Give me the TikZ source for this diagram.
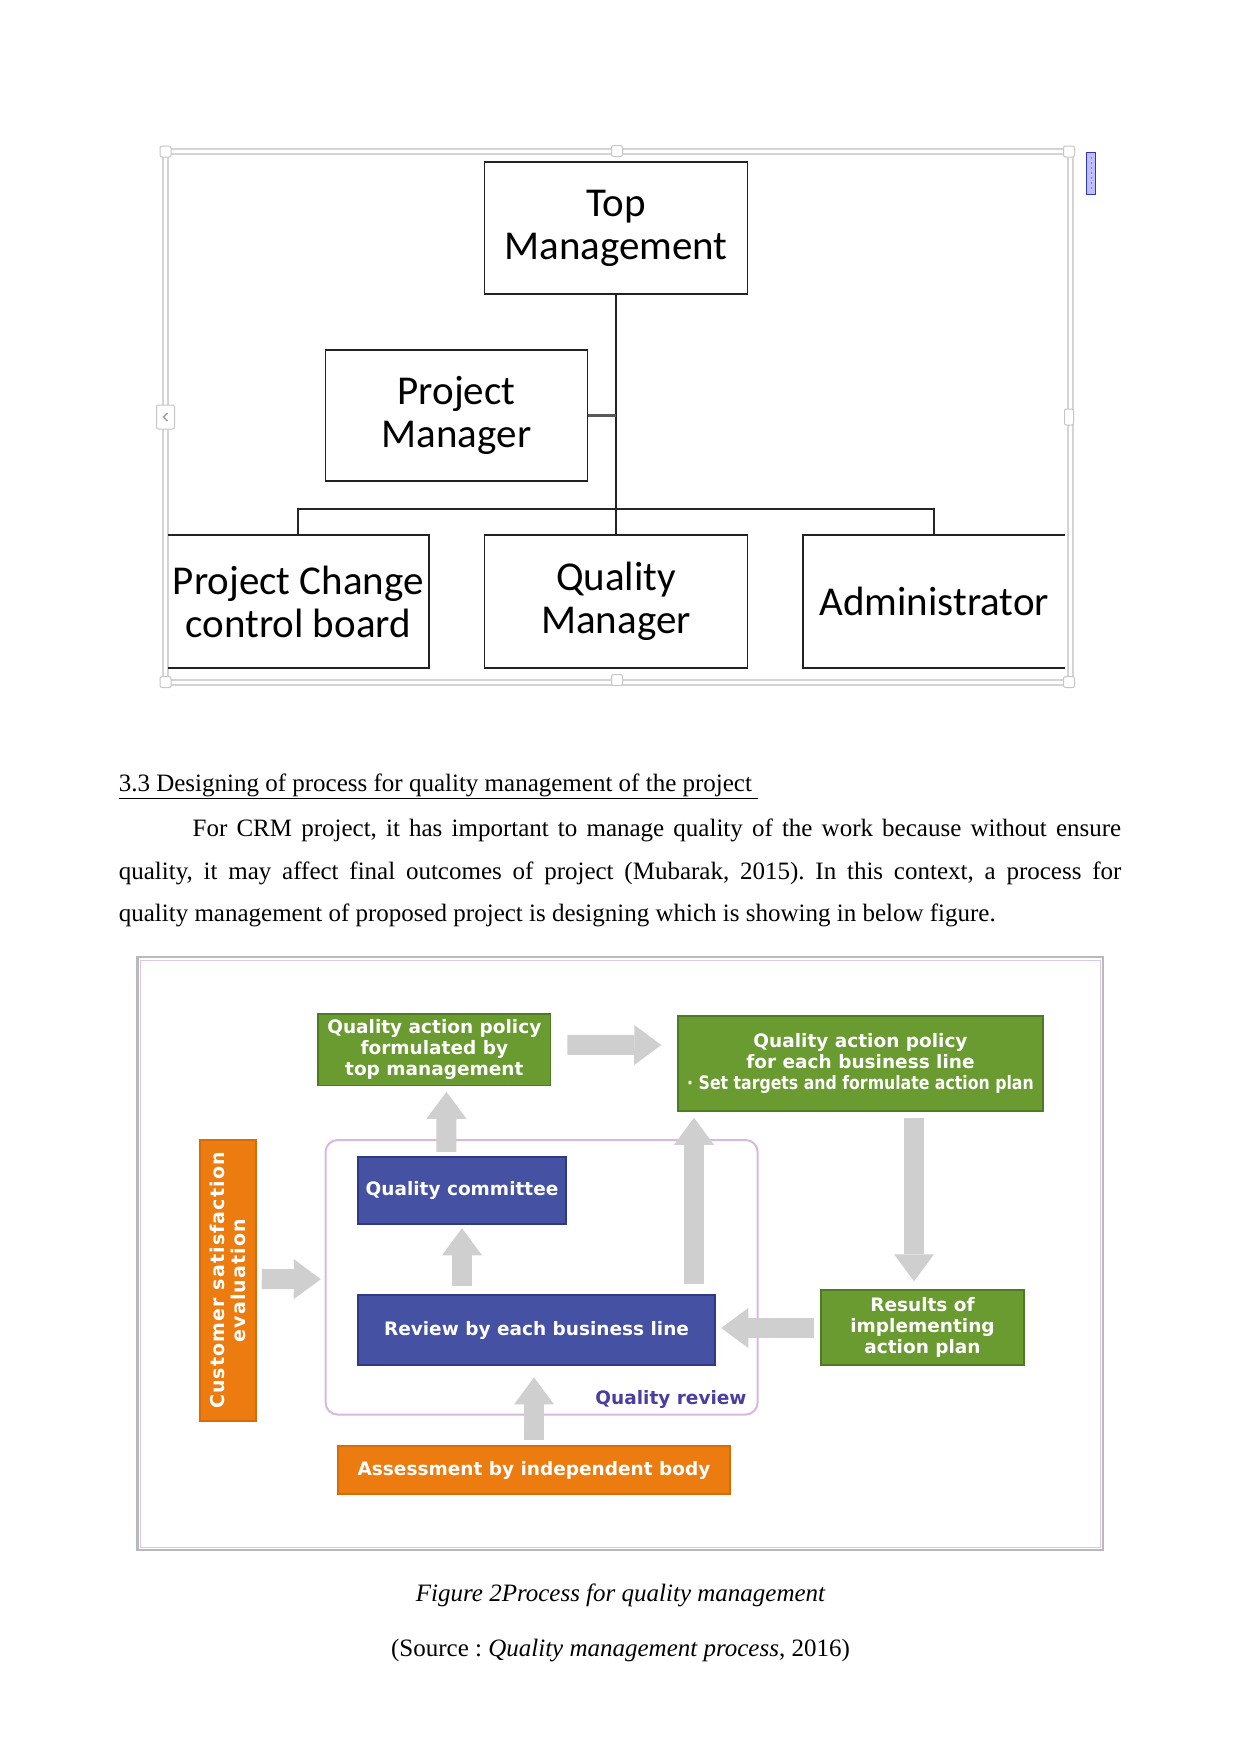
\documentclass[tikz,border=0pt]{standalone}
\usepackage{fontspec}
\usepackage{graphicx}
\setmainfont{Liberation Serif}
\newfontfamily\califont{Carlito}
\newfontfamily\dvsfont{DejaVu Sans}
\newfontfamily\dvsspaced[LetterSpace=6]{DejaVu Sans}
\usetikzlibrary{arrows.meta,calc}
\definecolor{qgreen}{HTML}{6A9B30}
\definecolor{qgreenb}{HTML}{4E7A22}
\definecolor{qblue}{HTML}{4551A2}
\definecolor{qblueb}{HTML}{2F3985}
\definecolor{qorange}{HTML}{EC7C10}
\definecolor{qorangeb}{HTML}{D86C05}
\definecolor{agray}{HTML}{CFCFCF}
\definecolor{qrline}{HTML}{D8B8E0}
\definecolor{qrtext}{HTML}{4A3E9E}
\definecolor{framegray}{HTML}{D4D4D4}
\definecolor{orgline}{HTML}{222222}
\begin{document}
\begin{tikzpicture}[x=1pt,y=-1pt,
  orgbox/.style={draw=orgline,line width=1.8pt,inner sep=0pt,align=center,
    font=\califont\fontsize{41}{43}\selectfont},
  orgplain/.style={inner sep=0pt,align=center,font=\califont\fontsize{41}{43}\selectfont},
  orgconn/.style={draw=orgline,line width=1.8pt},
  handle/.style={draw=gray!45,fill=white,rounded corners=2pt,minimum size=11pt,inner sep=0pt,line width=1pt},
  body/.style={inner sep=0pt,font=\frenchspacing\fontsize{25}{30}\selectfont},
  pbox/.style={inner sep=0pt,align=center,text=white,
    font=\dvsfont\bfseries\fontsize{18.5}{21}\selectfont,line width=1.5pt},
  gbox/.style={pbox,fill=qgreen,draw=qgreenb},
  bbox/.style={pbox,fill=qblue,draw=qblueb},
  obox/.style={pbox,fill=qorange,draw=qorangeb},
  barrow/.style={draw=agray,line width=20pt,
    -{Triangle[width=40pt,length=27pt,line width=0pt]}},
]
\useasboundingbox (0,0) rectangle (1241,1754);
\fill[white] (0,0) rectangle (1241,1754);

% ---------- Figure 1 frame ----------
\draw[framegray,line width=1.3pt] (163,149) rectangle (1073,685);
\draw[framegray,line width=1.3pt] (168,154) rectangle (1068,680);

% ---------- Org chart ----------
\node[orgbox,minimum width=263pt,minimum height=132pt] (tm) at (616,228) {Top\\Management};
\node[orgbox,minimum width=262pt,minimum height=131pt] (pm) at (456.5,415.5) {Project\\Manager};
\node[orgplain,minimum width=260.6pt,minimum height=133pt] (pccb) at (298.3,601.5) {Project Change\\control board};
\node[orgbox,minimum width=263pt,minimum height=133pt] (qm) at (616,601.5) {Quality\\Manager};
\node[orgplain,minimum width=261.5pt,minimum height=133pt] (adm) at (934.25,601.5) {Administrator};
\draw[orgconn] (pccb.north west) -- (pccb.north east) -- (pccb.south east) -- (pccb.south west);
\draw[orgconn] (adm.north east) -- (adm.north west) -- (adm.south west) -- (adm.south east);

\coordinate (bar) at (0,509);
\draw[orgconn] (tm.south) -- (qm.north);
\draw[draw=gray!70!black,line width=2.5pt] (pm.east) -- (pm.east -| tm.south);
\draw[draw=gray!30!black,line width=1.8pt] (pccb.north) -- (pccb.north |- bar) -- (adm.north |- bar) -- (adm.north);

% handles
\node[handle] (h1) at (165.5,151.5) {};
\node[handle] (h2) at (617,151) {};
\node[handle] (h3) at (1069,151.5) {};
\node[handle] (h4) at (165.5,682) {};
\node[handle] (h5) at (617,680) {};
\node[handle] (h6) at (1069,682) {};
\node[handle,minimum width=9pt,minimum height=16pt] (h7) at (1069,417) {};
\node[handle,minimum width=18pt,minimum height=24pt] (h8) at (165.5,417) {};
\draw[gray!70,line width=1.6pt] ([xshift=2pt,yshift=4pt]h8.center) -- ([xshift=-2pt]h8.center) -- ([xshift=2pt,yshift=-4pt]h8.center);
\draw[draw=blue!60!gray,fill=blue!25!white,line width=0.8pt] (1086,152) rectangle (1095,194);
\foreach \yy in {158,163,168,173,178,183,188}
  \fill[blue!50!gray] (1091.5,\yy) circle (0.7pt);

% ---------- Text ----------
\node[body,anchor=base west] (head) at (118.6,791)
  {\underline{3.3 Designing of process for quality management of the project\ }};
\node[body,anchor=base west] (l1) at (192.5,836)
  {\makebox[928.5pt][s]{For CRM project, it has important to manage quality of the work because without ensure}};
\node[body,anchor=base west] (l2) at (118.6,879)
  {\makebox[1002.5pt][s]{quality, it may affect final outcomes of project (Mubarak, 2015). In this context, a process for}};
\node[body,anchor=base west] (l3) at (118.6,921)
  {quality management of proposed project is designing which is showing in below figure.};

% ---------- Figure 2 frame ----------
\draw[gray!55,line width=2.5pt] (137.6,957) rectangle (1103,1550);
\draw[qrline!80,line width=1pt] (140.5,960) rectangle (1100,1547);

% ---------- Process diagram ----------
\draw[qrline,line width=2pt,rounded corners=12pt] (325.6,1140) rectangle (757.6,1414.5);
\node[inner sep=0pt,minimum width=432pt,minimum height=274.5pt] (qr) at (541.6,1277.25) {};
\node[inner sep=0pt,text=qrtext,font=\dvsfont\bfseries\fontsize{18.5}{21}\selectfont] (qrl) at (671,1399) {Quality review};

\node[gbox,minimum width=232.5pt,minimum height=71.5pt] (qapf) at (434.3,1049.8)
  {Quality action policy\\formulated by\\top management};
\node[gbox,minimum width=365pt,minimum height=95pt] (qape) at (860.5,1063.5)
  {Quality action policy\\for each business line\\\scalebox{0.85}[1]{· Set targets and formulate action plan}};
\node[obox,rotate=90,minimum width=281pt,minimum height=56pt,
  font=\dvsspaced\bfseries\fontsize{19}{20.5}\selectfont] (cust) at (228,1280.5)
  {Customer satisfaction\\evaluation};
\node[bbox,minimum width=208pt,minimum height=67pt] (qc) at (462,1190.5) {Quality committee};
\node[bbox,minimum width=357pt,minimum height=70pt] (rev) at (536.5,1330) {Review by each business line};
\node[gbox,minimum width=203pt,minimum height=75pt] (res) at (922.5,1327.5) {Results of\\implementing\\action plan};
\node[obox,minimum width=391.6pt,minimum height=48pt] (ass) at (534,1470) {Assessment by independent body};

\draw[barrow] ($(qapf.east)+(16,-5)$) -- ($(qape.west)+(-16,-18.5)$);
\draw[barrow] ($(qr.north west)+(121,12)$) -- ($(qapf.south)+(12.2,5.5)$);
\draw[barrow] ($(rev.north)+(-74.5,-8)$) -- ($(qc.south)+(0,3.5)$);
\draw[barrow] ($(rev.north)+(157.5,-10)$) -- ($(qape.south)+(-166.5,6)$);
\draw[barrow] ($(qape.south)+(53.5,6)$) -- ($(res.north)+(-8.5,-8)$);
\draw[barrow] ($(res.west)+(-6,0.5)$) -- ($(rev.east)+(5.5,-2)$);
\draw[barrow] ($(cust.south)+(5,-1.5)$) -- ($(qr.west)+(-4.6,2)$);
\draw[barrow] ($(ass.north)+(0,-5)$) -- ($(rev.south)+(-2.5,11.7)$);

% ---------- Captions ----------
\node[body,anchor=base] (cap) at (620.5,1601) {\itshape Figure 2Process for quality management};
\node[body,anchor=base] (src) at (620.5,1656) {(Source : \textit{Quality management process}, 2016)};
\end{tikzpicture}
\end{document}
